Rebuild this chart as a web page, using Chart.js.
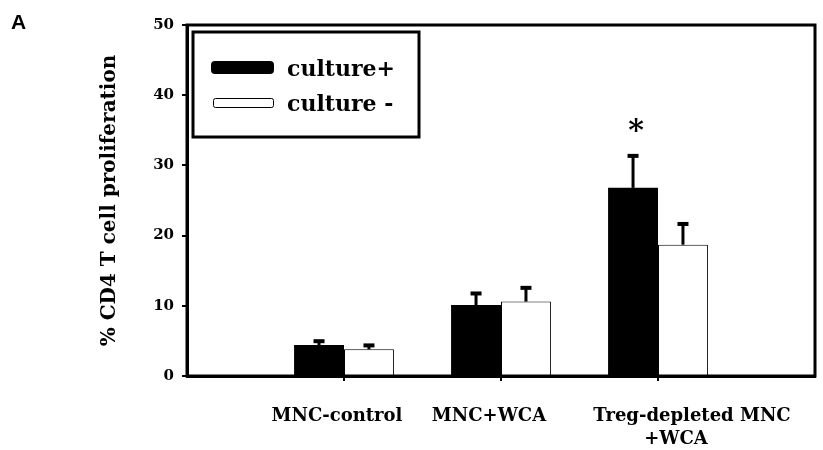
<!DOCTYPE html>
<html>
<head>
<meta charset="utf-8">
<script src="https://cdn.jsdelivr.net/npm/chart.js@4"></script>
<style>
  html, body { margin: 0; padding: 0; background: #fff; }
  canvas { display: block; }
</style>
</head>
<body>
<canvas id="c" width="823" height="450"></canvas>
<script>
// Groups on the x axis (empty slots pad both ends of the frame)
const categories = ['', 'MNC-control', 'MNC+WCA', ['Treg-depleted MNC', '+WCA'], ''];
// Mean % proliferation and upper SD for each condition
const culturePlus = [null, 4.4, 10.1, 26.8, null];
const cultureMinus = [null, 3.8, 10.6, 18.7, null];
const errPlus = [null, 0.7, 1.8, 4.7, null];
const errMinus = [null, 0.7, 2.1, 3.1, null];
// Significance marks drawn over the culture+ bars
const sigPlus = ['', '', '', '*', ''];
const yTicks = [0, 10, 20, 30, 40, 50];

const SERIF = '"DejaVu Serif", serif';

const errorBars = {
  id: 'errorBars',
  afterDatasetsDraw(chart) {
    const ctx = chart.ctx;
    const y = chart.scales.y;
    const errs = [errPlus, errMinus];
    ctx.save();
    chart.data.datasets.forEach((ds, di) => {
      const meta = chart.getDatasetMeta(di);
      meta.data.forEach((bar, i) => {
        const v = ds.data[i];
        const e = errs[di][i];
        if (v == null || e == null) return;
        const top = y.getPixelForValue(v + e);
        ctx.strokeStyle = '#000';
        ctx.fillStyle = '#000';
        ctx.lineWidth = 3;
        ctx.beginPath();
        ctx.moveTo(bar.x, bar.y);
        ctx.lineTo(bar.x, top);
        ctx.stroke();
        ctx.fillRect(bar.x - 5.5, top - 1, 11, 4);
        if (di === 0 && sigPlus[i]) {
          ctx.font = 'bold 30px ' + SERIF;
          ctx.textAlign = 'center';
          ctx.textBaseline = 'alphabetic';
          ctx.fillText(sigPlus[i], bar.x + 3, top - 15);
        }
      });
    });
    // frame around the plot
    const a = chart.chartArea;
    ctx.lineWidth = 3;
    ctx.strokeStyle = '#000';
    ctx.strokeRect(a.left, a.top, a.right - a.left, a.bottom - a.top);
    ctx.restore();
  }
};

// Category names under the axis; long names sit a little off their tick
const groupLabels = {
  id: 'groupLabels',
  afterDraw(chart) {
    const ctx = chart.ctx;
    const x = chart.scales.x;
    const nudge = [0, -7, -12, 34, 0];
    const lineNudge = [[0], [0], [0], [0, -16], [0]];
    const base = chart.chartArea.bottom + 45;
    ctx.save();
    ctx.fillStyle = '#000';
    ctx.font = 'bold 18px ' + SERIF;
    ctx.textAlign = 'center';
    ctx.textBaseline = 'alphabetic';
    categories.forEach((lab, i) => {
      const lines = Array.isArray(lab) ? lab : [lab];
      const px = x.getPixelForTick(i) + nudge[i];
      lines.forEach((t, k) => {
        if (t) ctx.fillText(t, px + (lineNudge[i][k] || 0), base + k * 23);
      });
    });
    ctx.restore();
  }
};

const boxLegend = {
  id: 'boxLegend',
  afterDraw(chart) {
    const ctx = chart.ctx;
    const a = chart.chartArea;
    const x0 = a.left + 6, y0 = a.top + 7;
    ctx.save();
    ctx.lineWidth = 3;
    ctx.strokeStyle = '#000';
    ctx.strokeRect(x0, y0, 226, 105);
    const ds = chart.data.datasets;
    // filled swatch
    ctx.fillStyle = '#000';
    ctx.beginPath();
    ctx.roundRect(x0 + 18, y0 + 29, 63, 13, 4);
    ctx.fill();
    // open swatch
    ctx.fillStyle = '#fff';
    ctx.lineWidth = 1;
    ctx.beginPath();
    ctx.roundRect(x0 + 20.5, y0 + 66.5, 60, 9, 2);
    ctx.fill();
    ctx.stroke();
    ctx.fillStyle = '#000';
    ctx.font = 'bold 22px ' + SERIF;
    ctx.textAlign = 'left';
    ctx.textBaseline = 'alphabetic';
    ctx.fillText(ds[0].label, x0 + 94, y0 + 44);
    ctx.fillText(ds[1].label, x0 + 94, y0 + 79);
    // panel letter
    ctx.font = 'bold 21px "Liberation Sans", Arial, sans-serif';
    ctx.fillText('A', 11, 29);
    ctx.restore();
  }
};

new Chart(document.getElementById('c'), {
  type: 'bar',
  data: {
    labels: categories,
    datasets: [
      { label: 'culture+', data: culturePlus, backgroundColor: '#000', borderWidth: 0 },
      { label: 'culture -', data: cultureMinus, backgroundColor: '#fff', borderColor: '#000', borderWidth: 1 }
    ]
  },
  options: {
    responsive: false,
    devicePixelRatio: 1,
    animation: false,
    categoryPercentage: 0.636,
    barPercentage: 1,
    layout: { padding: { left: 91, top: 25, right: 8, bottom: 0 } },
    plugins: { legend: { display: false }, tooltip: { enabled: false } },
    scales: {
      x: {
        type: 'category',
        offset: false,
        grid: {
          offset: false,
          drawOnChartArea: false,
          tickLength: 5,
          lineWidth: 2,
          color: c => (categories[c.index] === '' ? 'rgba(0,0,0,0)' : '#000')
        },
        border: { color: '#000', width: 3 },
        ticks: { display: false, autoSkip: false, maxRotation: 0 },
        afterFit: s => { s.height = 74; s.paddingLeft = 0; s.paddingRight = 0; }
      },
      y: {
        min: 0,
        max: 50,
        afterBuildTicks: s => { s.ticks = yTicks.map(v => ({ value: v })); },
        grid: { drawOnChartArea: false, tickLength: 5, lineWidth: 2, color: '#000' },
        border: { color: '#000', width: 3 },
        ticks: { color: '#000', font: { family: SERIF, weight: 'bold', size: 15 }, padding: 8 },
        title: {
          display: true,
          text: '% CD4 T cell proliferation',
          color: '#000',
          font: { family: SERIF, weight: 'bold', size: 20 },
          padding: { top: 7, bottom: 0 }
        },
        afterFit: s => { s.width = 96; }
      }
    }
  },
  plugins: [errorBars, groupLabels, boxLegend]
});
</script>
</body>
</html>
